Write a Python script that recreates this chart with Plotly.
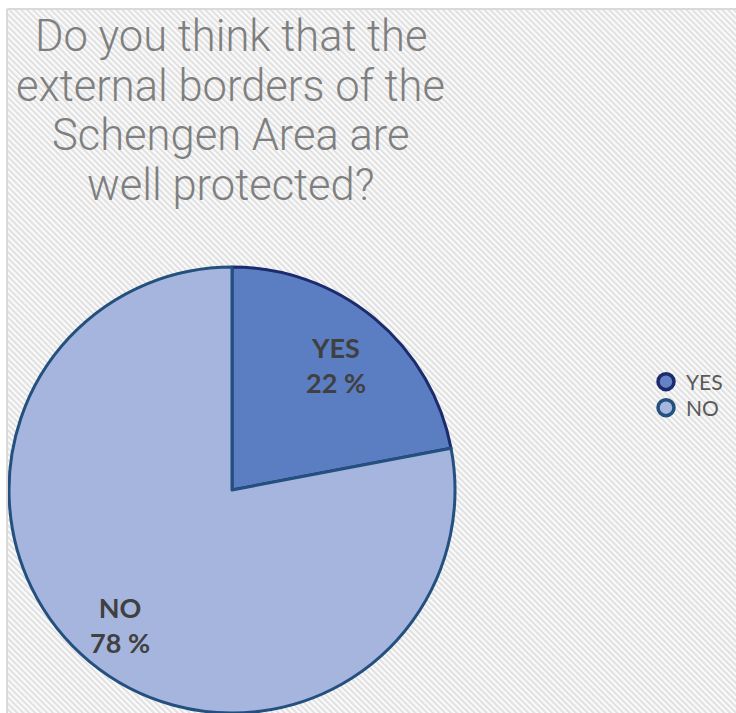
import base64
import math
import plotly.graph_objects as go

# ---- data ----
labels = ["YES", "NO"]
values = [22, 78]
slice_colors = ["#5b7dc1", "#a5b5de"]
legend_fill = ["#6482c4", "#a7b6de"]
slice_line_colors = ["#1b2b6d", "#23507e"]
title_lines = ["Do you think that the", "external borders of the", "Schengen Area are", "well protected?"]

W, H = 736, 713

# pie geometry (pixels)
cx, cy, R = 232, 490, 223
dom_x = [(cx - R) / W, (cx + R) / W]
dom_y = [(H - (cy + R)) / H, (H - (cy - R)) / H]

fig = go.Figure()
fig.add_trace(go.Pie(
    labels=labels, values=values, sort=False, direction="clockwise", rotation=0,
    marker=dict(colors=slice_colors, line=dict(color=slice_line_colors, width=3)),
    textinfo="none", hoverinfo="label+percent", showlegend=False,
    domain=dict(x=dom_x, y=dom_y),
))

# legend entries with circle markers (one legend per entry for exact spacing)
legend_names = ["legend", "legend2"]
for lab, c, lc, lg in zip(labels, legend_fill, slice_line_colors, legend_names):
    fig.add_trace(go.Scatter(
        x=[None], y=[None], mode="markers", name=lab, legend=lg,
        marker=dict(symbol="circle", size=16, color=c, line=dict(color=lc, width=3.5)),
    ))

# slice labels placed at mid-angle of each slice
total = sum(values)
cum = 0
radfrac = [0.73, 0.785]
annotations = []
for lab, v, rf in zip(labels, values, radfrac):
    mid = (cum + v / 2) / total * 2 * math.pi
    cum += v
    px = cx + rf * R * math.sin(mid)
    py = cy - rf * R * math.cos(mid)
    annotations.append(dict(
        x=px / W, y=1 - py / H, xref="paper", yref="paper", showarrow=False,
        text=f"<b>{lab}<br>{round(v / total * 100)} %</b>",
        font=dict(family="Lato", size=27, color="#404040"), align="center",
        xanchor="center", yanchor="middle",
    ))

# title lines
for i, line in enumerate(title_lines):
    base = 64 + i * 49.5
    annotations.append(dict(
        x=231 / W, y=1 - base / H, xref="paper", yref="paper", showarrow=False,
        text=line, xanchor="center", yanchor="bottom",
        font=dict(family="Roboto", size=43.5, color="#7f7f7f", weight=300),
    ))

# hatched background
svg = (
    f"<svg xmlns='http://www.w3.org/2000/svg' width='{W-7}' height='{H-9}'>"
    "<defs><pattern id='p' width='4.2' height='4.2' patternUnits='userSpaceOnUse' patternTransform='rotate(-45)'>"
    "<rect width='4.2' height='4.2' fill='#fafafa'/><rect width='2' height='4.2' fill='#e0e0e0'/>"
    "</pattern></defs><rect width='100%' height='100%' fill='url(#p)'/></svg>"
)
src = "data:image/svg+xml;base64," + base64.b64encode(svg.encode()).decode()

legend_common = dict(xanchor="left", yanchor="middle", bgcolor="rgba(0,0,0,0)",
                     font=dict(family="Lato", size=21, color="#595959"), itemsizing="trace")

fig.update_layout(
    width=W, height=H, margin=dict(l=0, r=0, t=0, b=0),
    paper_bgcolor="white", plot_bgcolor="rgba(0,0,0,0)",
    xaxis=dict(visible=False), yaxis=dict(visible=False),
    images=[dict(source=src, xref="paper", yref="paper", x=7 / W, y=1 - 9 / H,
                 sizex=(W - 7) / W, sizey=(H - 9) / H, sizing="stretch",
                 xanchor="left", yanchor="top", layer="below")],
    shapes=[
        dict(type="line", xref="paper", yref="paper", x0=7 / W, x1=1, y0=1 - 9 / H, y1=1 - 9 / H,
             line=dict(color="#d9d9d9", width=2)),
        dict(type="line", xref="paper", yref="paper", x0=7 / W, x1=7 / W, y0=0, y1=1 - 9 / H,
             line=dict(color="#d9d9d9", width=2)),
    ],
    legend=dict(x=646 / W, y=1 - 382 / H, **legend_common),
    legend2=dict(x=646 / W, y=1 - 408 / H, **legend_common),
    annotations=annotations,
    showlegend=True,
)

fig.write_html("out.html", config={"displayModeBar": False},
               post_script="document.body.style.margin='0';document.body.style.overflow='hidden';")
